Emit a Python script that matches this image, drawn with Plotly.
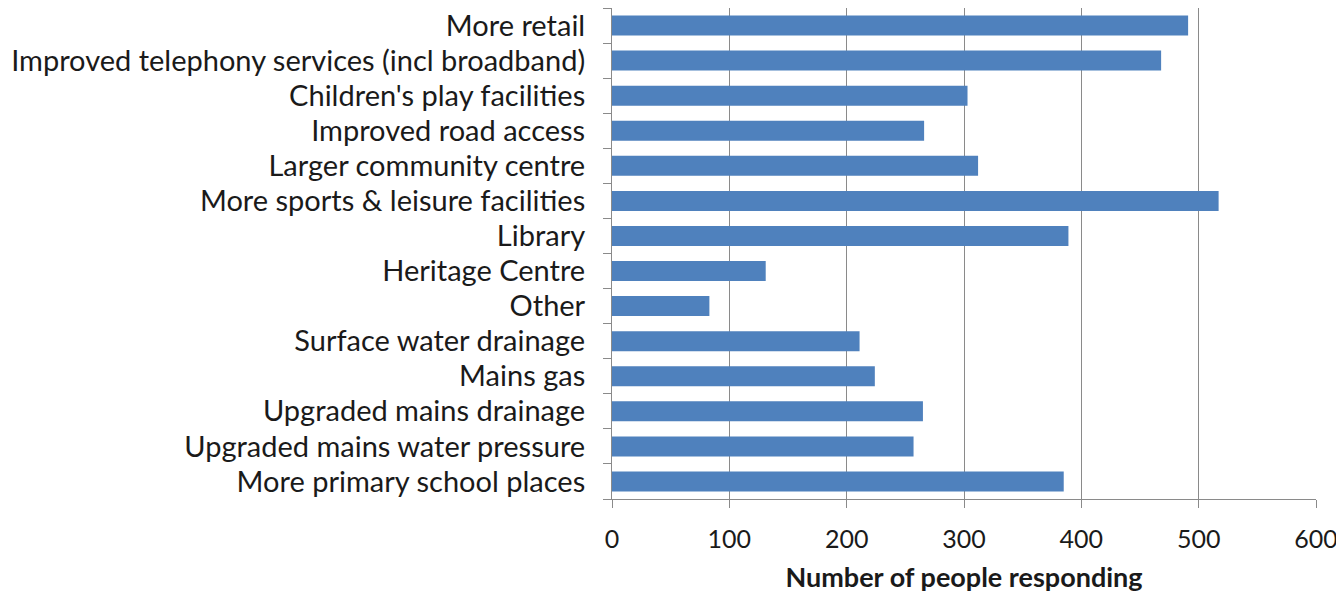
import plotly.graph_objects as go

# survey responses, top to bottom as shown
categories = [
    "More retail",
    "Improved telephony services (incl broadband)",
    "Children's play facilities",
    "Improved road access",
    "Larger community centre",
    "More sports & leisure facilities",
    "Library",
    "Heritage Centre",
    "Other",
    "Surface water drainage",
    "Mains gas",
    "Upgraded mains drainage",
    "Upgraded mains water pressure",
    "More primary school places",
]
responses = [491, 468, 303, 266, 312, 517, 389, 131, 83, 211, 224, 265, 257, 385]
x_ticks = [0, 100, 200, 300, 400, 500, 600]

fig = go.Figure(
    go.Bar(
        x=responses,
        y=categories,
        orientation="h",
        marker=dict(color="#4f81bd", line=dict(width=0)),
        width=0.57,
    )
)

# page body adds an 8px offset, margins account for it
fig.update_layout(
    width=1344,
    height=595,
    margin=dict(l=604, r=36, t=0, b=104),
    plot_bgcolor="white",
    paper_bgcolor="white",
    font=dict(family="Lato, sans-serif", size=26, color="#1a1a1a"),
    showlegend=False,
)

fig.update_xaxes(
    range=[0, 600],
    tickvals=x_ticks,
    tickfont=dict(size=25),
    showgrid=True,
    gridcolor="#8a8a8a",
    gridwidth=1,
    showline=True,
    linecolor="#8a8a8a",
    ticks="outside",
    ticklen=8,
    tickcolor="#8a8a8a",
    ticklabelstandoff=10,
    zeroline=False,
    title=dict(text="<b>Number of people responding</b>", font=dict(size=27), standoff=16),
)

fig.update_yaxes(
    categoryorder="array",
    categoryarray=categories[::-1],
    tickfont=dict(size=29),
    showline=True,
    linecolor="#8a8a8a",
    ticks="outside",
    ticklen=8,
    tickcolor="#8a8a8a",
    tickson="boundaries",
    ticklabelstandoff=20,
    showgrid=False,
)

fig.write_html("out.html")
